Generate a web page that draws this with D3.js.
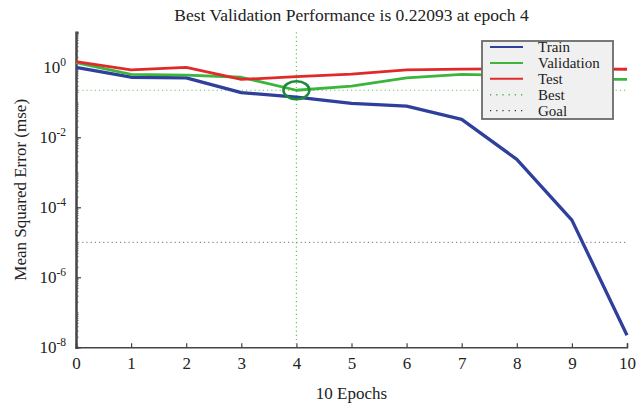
<!DOCTYPE html>
<html>
<head>
<meta charset="utf-8">
<script src="https://cdn.jsdelivr.net/npm/d3@7"></script>
<style>
  body { margin: 0; background: #fff; }
  text { font-family: "Liberation Serif", "DejaVu Serif", serif; fill: #222; }
</style>
</head>
<body>
<div id="chart"></div>
<script>
// epochs and the three performance curves (mse)
var epochs = [0, 1, 2, 3, 4, 5, 6, 7, 8, 9, 10];
var trainMse = [1.0, 0.52, 0.50, 0.19, 0.14, 0.093, 0.078, 0.0327, 0.00235, 4.3e-5, 2.2e-8];
var validMse = [1.35, 0.63, 0.60, 0.52, 0.22093, 0.29, 0.50, 0.63, 0.58, 0.46, 0.45];
var testMse  = [1.45, 0.84, 1.0, 0.45, 0.54, 0.64, 0.84, 0.89, 0.9, 0.9, 0.88];
var bestEpoch = 4;
var bestValue = 0.22093;
var goalValue = 1e-5;
var yMajor = [1e-8, 1e-6, 1e-4, 1e-2, 1];
var yMajorExp = ["-8", "-6", "-4", "-2", "0"];
var legendNames = ["Train", "Validation", "Test", "Best", "Goal"];

var width = 636, height = 411;
var margin = {top: 32.3, right: 9, bottom: 63.7, left: 76};

var svg = d3.select("#chart").append("svg")
  .attr("width", width)
  .attr("height", height);

var x = d3.scaleLinear()
  .domain([0, 10])
  .range([margin.left, width - margin.right]);

var y = d3.scaleLog()
  .domain([1e-8, 10])
  .range([height - margin.bottom, margin.top]);

// title
svg.append("text")
  .attr("x", (margin.left + width - margin.right) / 2)
  .attr("y", 21)
  .attr("text-anchor", "middle")
  .style("font-size", "17.5px")
  .text("Best Validation Performance is " + bestValue + " at epoch " + bestEpoch);

// minor ticks on the log axis
var minorTicks = [];
for (var e = -8; e < 1; e++) {
  for (var m = 1; m < 10; m++) minorTicks.push(m * Math.pow(10, e));
}
minorTicks.push(10);

svg.append("g")
  .attr("transform", "translate(" + margin.left + ",0)")
  .call(d3.axisLeft(y).tickValues(minorTicks).tickSize(-2.5).tickFormat(""))
  .call(function(g) {
    g.select(".domain").attr("stroke", "#444").attr("stroke-width", 2.5);
    g.selectAll(".tick line").attr("stroke", "#555");
  });

svg.append("g")
  .attr("transform", "translate(" + margin.left + ",0)")
  .call(d3.axisLeft(y).tickValues(yMajor).tickSize(-5).tickFormat(""))
  .call(function(g) {
    g.select(".domain").remove();
    g.selectAll(".tick line").attr("stroke", "#444").attr("stroke-width", 1.2);
  });

// y tick labels with superscript exponents
var yLab = svg.append("g").selectAll("text")
  .data(yMajor)
  .enter()
  .append("text")
    .attr("x", margin.left - 10)
    .attr("y", function(d) { return y(d) + 6; })
    .attr("text-anchor", "end")
    .style("font-size", "17px");
yLab.append("tspan").text("10");
yLab.append("tspan")
  .attr("dy", -7)
  .style("font-size", "11.5px")
  .text(function(d, i) { return yMajorExp[i]; });

// x axis
svg.append("g")
  .attr("transform", "translate(0," + (height - margin.bottom) + ")")
  .call(d3.axisBottom(x).tickValues(epochs).tickSize(-4).tickPadding(10))
  .call(function(g) {
    g.select(".domain").attr("stroke", "#444").attr("stroke-width", 1.5);
    g.selectAll(".tick line").attr("stroke", "#444").attr("stroke-width", 1.2);
    g.selectAll(".tick text")
      .style("font-family", "Liberation Serif, serif")
      .style("font-size", "17px")
      .attr("fill", "#222");
  });

svg.append("text")
  .attr("x", (margin.left + width - margin.right) / 2)
  .attr("y", 399)
  .attr("text-anchor", "middle")
  .style("font-size", "17px")
  .text("10 Epochs");

svg.append("text")
  .attr("transform", "translate(26," + ((margin.top + height - margin.bottom) / 2) + ") rotate(-90)")
  .attr("text-anchor", "middle")
  .style("font-size", "17px")
  .text("Mean Squared Error (mse)");

// best and goal reference lines
svg.append("line")
  .attr("x1", x(bestEpoch)).attr("x2", x(bestEpoch))
  .attr("y1", margin.top).attr("y2", height - margin.bottom)
  .attr("stroke", "#6cc06c").attr("stroke-width", 1.2)
  .attr("stroke-dasharray", "1.2,3");

svg.append("line")
  .attr("x1", margin.left + 2).attr("x2", width - margin.right)
  .attr("y1", y(bestValue)).attr("y2", y(bestValue))
  .attr("stroke", "#6cc06c").attr("stroke-width", 1.2)
  .attr("stroke-dasharray", "1.2,3");

svg.append("line")
  .attr("x1", margin.left + 2).attr("x2", width - margin.right)
  .attr("y1", y(goalValue)).attr("y2", y(goalValue))
  .attr("stroke", "#8a8a8a").attr("stroke-width", 1.3)
  .attr("stroke-dasharray", "1.2,3");

// curves
var line = d3.line()
  .x(function(d) { return x(d[0]); })
  .y(function(d) { return y(d[1]); });

var series = [
  {values: trainMse, color: "#2f3f9c", w: 3.3},
  {values: validMse, color: "#3db53d", w: 2.8},
  {values: testMse,  color: "#e02a2a", w: 2.8}
];

svg.append("g").selectAll("path")
  .data(series)
  .enter()
  .append("path")
    .attr("fill", "none")
    .attr("stroke", function(d) { return d.color; })
    .attr("stroke-width", function(d) { return d.w; })
    .attr("stroke-linejoin", "round")
    .attr("d", function(d) { return line(d3.zip(epochs, d.values)); });

// best point marker
svg.append("ellipse")
  .attr("cx", x(bestEpoch))
  .attr("cy", y(bestValue))
  .attr("rx", 13)
  .attr("ry", 9)
  .attr("fill", "none")
  .attr("stroke", "#1d8a3a")
  .attr("stroke-width", 2.5);

// legend
var legend = svg.append("g").attr("transform", "translate(482,41)");
legend.append("rect")
  .attr("width", 131).attr("height", 78)
  .attr("fill", "#f0f0f0")
  .attr("stroke", "#6a6a6a")
  .attr("stroke-width", 1.8);

var legendStyle = [
  {color: "#2f3f9c", dash: null, w: 2},
  {color: "#3db53d", dash: null, w: 2},
  {color: "#e02a2a", dash: null, w: 2},
  {color: "#3db53d", dash: "1.2,5", w: 1.4},
  {color: "#333", dash: "1.2,5", w: 1.4}
];

var item = legend.selectAll(".item")
  .data(legendNames)
  .enter()
  .append("g")
    .attr("class", "item")
    .attr("transform", function(d, i) { return "translate(0," + (6 + i * 15.9) + ")"; });

item.append("line")
  .attr("x1", 8).attr("x2", 41)
  .attr("stroke", function(d, i) { return legendStyle[i].color; })
  .attr("stroke-width", function(d, i) { return legendStyle[i].w; })
  .attr("stroke-dasharray", function(d, i) { return legendStyle[i].dash; });

item.append("text")
  .attr("x", 56)
  .attr("y", 5)
  .style("font-size", "15px")
  .text(function(d) { return d; });
</script>
</body>
</html>
